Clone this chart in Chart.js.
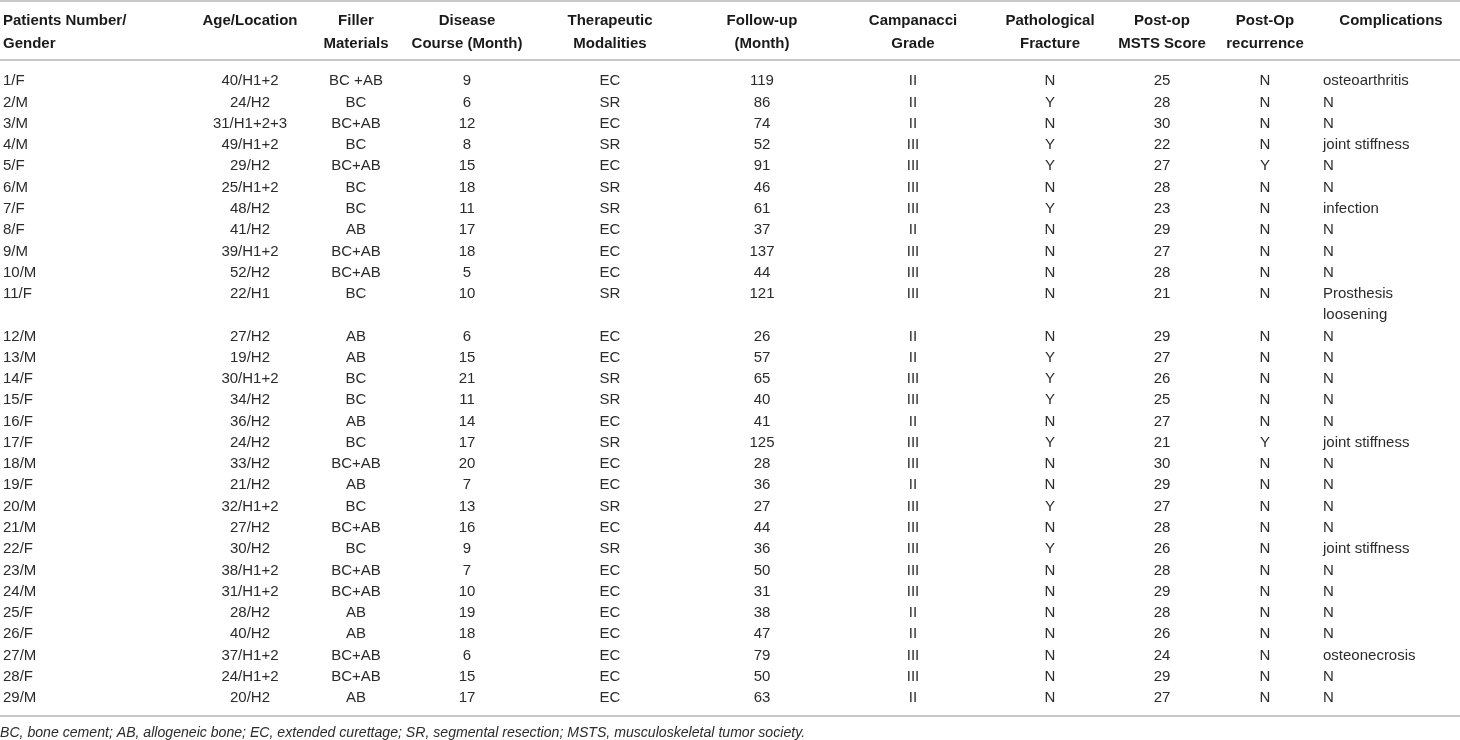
<!DOCTYPE html>
<html>
<head>
<meta charset="utf-8">
<title>Patient table</title>
<script src="https://cdn.jsdelivr.net/npm/chart.js@4.4.1/dist/chart.umd.min.js"></script>
<style>
  html, body { margin: 0; padding: 0; background: #fff; }
  #table-chart { display: block; }
</style>
</head>
<body>
<canvas id="table-chart" width="1460" height="740"></canvas>
<script>
'use strict';

// table content, one array per column
var patients = ['1/F', '2/M', '3/M', '4/M', '5/F', '6/M', '7/F', '8/F', '9/M', '10/M', '11/F', '12/M', '13/M', '14/F', '15/F',
  '16/F', '17/F', '18/M', '19/F', '20/M', '21/M', '22/F', '23/M', '24/M', '25/F', '26/F', '27/M', '28/F', '29/M'];
var ageLocation = ['40/H1+2', '24/H2', '31/H1+2+3', '49/H1+2', '29/H2', '25/H1+2', '48/H2', '41/H2', '39/H1+2', '52/H2', '22/H1', '27/H2', '19/H2', '30/H1+2', '34/H2',
  '36/H2', '24/H2', '33/H2', '21/H2', '32/H1+2', '27/H2', '30/H2', '38/H1+2', '31/H1+2', '28/H2', '40/H2', '37/H1+2', '24/H1+2', '20/H2'];
var fillers = ['BC +AB', 'BC', 'BC+AB', 'BC', 'BC+AB', 'BC', 'BC', 'AB', 'BC+AB', 'BC+AB', 'BC', 'AB', 'AB', 'BC', 'BC',
  'AB', 'BC', 'BC+AB', 'AB', 'BC', 'BC+AB', 'BC', 'BC+AB', 'BC+AB', 'AB', 'AB', 'BC+AB', 'BC+AB', 'AB'];
var diseaseCourse = [9, 6, 12, 8, 15, 18, 11, 17, 18, 5, 10, 6, 15, 21, 11, 14, 17, 20, 7, 13, 16, 9, 7, 10, 19, 18, 6, 15, 17];
var modalities = ['EC', 'SR', 'EC', 'SR', 'EC', 'SR', 'SR', 'EC', 'EC', 'EC', 'SR', 'EC', 'EC', 'SR', 'SR',
  'EC', 'SR', 'EC', 'EC', 'SR', 'EC', 'SR', 'EC', 'EC', 'EC', 'EC', 'EC', 'EC', 'EC'];
var followUp = [119, 86, 74, 52, 91, 46, 61, 37, 137, 44, 121, 26, 57, 65, 40, 41, 125, 28, 36, 27, 44, 36, 50, 31, 38, 47, 79, 50, 63];
var grades = ['II', 'II', 'II', 'III', 'III', 'III', 'III', 'II', 'III', 'III', 'III', 'II', 'II', 'III', 'III',
  'II', 'III', 'III', 'II', 'III', 'III', 'III', 'III', 'III', 'II', 'II', 'III', 'III', 'II'];
var fractures = ['N', 'Y', 'N', 'Y', 'Y', 'N', 'Y', 'N', 'N', 'N', 'N', 'N', 'Y', 'Y', 'Y',
  'N', 'Y', 'N', 'N', 'Y', 'N', 'Y', 'N', 'N', 'N', 'N', 'N', 'N', 'N'];
var mstsScores = [25, 28, 30, 22, 27, 28, 23, 29, 27, 28, 21, 29, 27, 26, 25, 27, 21, 30, 29, 27, 28, 26, 28, 29, 28, 26, 24, 29, 27];
var recurrences = ['N', 'N', 'N', 'N', 'Y', 'N', 'N', 'N', 'N', 'N', 'N', 'N', 'N', 'N', 'N',
  'N', 'Y', 'N', 'N', 'N', 'N', 'N', 'N', 'N', 'N', 'N', 'N', 'N', 'N'];
var complications = ['osteoarthritis', 'N', 'N', 'joint stiffness', 'N', 'N', 'infection', 'N', 'N', 'N', 'Prosthesis\nloosening', 'N', 'N', 'N', 'N',
  'N', 'joint stiffness', 'N', 'N', 'N', 'N', 'joint stiffness', 'N', 'N', 'N', 'N', 'osteonecrosis', 'N', 'N'];

var headers = [
  ['Patients Number/', 'Gender'], ['Age/Location'], ['Filler', 'Materials'], ['Disease', 'Course (Month)'],
  ['Therapeutic', 'Modalities'], ['Follow-up', '(Month)'], ['Campanacci', 'Grade'], ['Pathological', 'Fracture'],
  ['Post-op', 'MSTS Score'], ['Post-Op', 'recurrence'], ['Complications']
];
var footnote = 'BC, bone cement; AB, allogeneic bone; EC, extended curettage; SR, segmental resection; MSTS, musculoskeletal tumor society.';

var columns = [patients, ageLocation, fillers, diseaseCourse, modalities, followUp, grades, fractures, mstsScores, recurrences, complications];

// layout: column anchors on the x axis (axis spans page width), row slots on the y axis
var colX = [3, 250, 356, 467, 610, 762, 913, 1050, 1162, 1265, 1323];
var colAlign = ['left', 'center', 'center', 'center', 'center', 'center', 'center', 'center', 'center', 'center', 'left'];
var headX = [3, 250, 356, 467, 610, 762, 913, 1050, 1162, 1265, 1391];
var headAlign = ['left', 'center', 'center', 'center', 'center', 'center', 'center', 'center', 'center', 'center', 'center'];
var headSlots = [-2.82, -1.74];
var ruleSlots = [-3.71, -0.92, 29.9];
var footSlot = 30.64;

var bodyFont = '15px "Liberation Sans", Arial, sans-serif';
var headFont = 'bold 15px "Liberation Sans", Arial, sans-serif';
var footFont = 'italic 14.1px "Liberation Sans", Arial, sans-serif';

// each row takes as many line slots as its tallest cell
var rowSlots = [];
var slot = 0;
patients.forEach(function(p, i) {
  rowSlots.push(slot);
  var lines = 1;
  columns.forEach(function(col) {
    lines = Math.max(lines, String(col[i]).split('\n').length);
  });
  slot += lines;
});

// one invisible point per cell line, text is drawn at the point
var cellPoints = [];
columns.forEach(function(col, c) {
  col.forEach(function(value, r) {
    String(value).split('\n').forEach(function(line, k) {
      cellPoints.push({ x: colX[c], y: rowSlots[r] + k, text: line, align: colAlign[c], font: bodyFont, color: '#2b2b2b' });
    });
  });
});
var headPoints = [];
headers.forEach(function(lines, c) {
  lines.forEach(function(line, k) {
    headPoints.push({ x: headX[c], y: headSlots[k], text: line, align: headAlign[c], font: headFont, color: '#1a1a1a' });
  });
});
var footPoints = [{ x: 0, y: footSlot, text: footnote, align: 'left', font: footFont, color: '#2b2b2b' }];

function capOffset(font) {
  var size = parseFloat(font.match(/(\d+(\.\d+)?)px/)[1]);
  return size * 0.358;
}

var tableText = {
  id: 'tableText',
  afterDatasetsDraw: function(chart) {
    var ctx = chart.ctx;
    var yScale = chart.scales.y;
    var area = chart.chartArea;

    ctx.save();
    ctx.strokeStyle = '#c8c8c8';
    ctx.lineWidth = 2;
    ruleSlots.forEach(function(s) {
      var y = Math.round(yScale.getPixelForValue(s));
      ctx.beginPath();
      ctx.moveTo(area.left, y);
      ctx.lineTo(area.right, y);
      ctx.stroke();
    });

    ctx.textBaseline = 'alphabetic';
    chart.data.datasets.forEach(function(ds, d) {
      var meta = chart.getDatasetMeta(d);
      meta.data.forEach(function(pt, i) {
        var item = ds.data[i];
        ctx.font = item.font;
        ctx.fillStyle = item.color;
        ctx.textAlign = item.align;
        ctx.fillText(item.text, pt.x, pt.y + capOffset(item.font));
      });
    });
    ctx.restore();
  }
};

var pointStyle = { pointRadius: 0, pointHoverRadius: 0, showLine: false };

new Chart(document.getElementById('table-chart'), {
  type: 'scatter',
  data: {
    datasets: [
      Object.assign({ label: 'header', data: headPoints }, pointStyle),
      Object.assign({ label: 'cells', data: cellPoints }, pointStyle),
      Object.assign({ label: 'note', data: footPoints }, pointStyle)
    ]
  },
  options: {
    responsive: false,
    animation: false,
    events: [],
    layout: { padding: 0 },
    plugins: { legend: { display: false }, tooltip: { enabled: false } },
    scales: {
      x: { type: 'linear', min: 0, max: 1460, display: false },
      y: { type: 'linear', min: -3.761, max: 31.03, reverse: true, display: false }
    }
  },
  plugins: [tableText]
});
</script>
</body>
</html>
